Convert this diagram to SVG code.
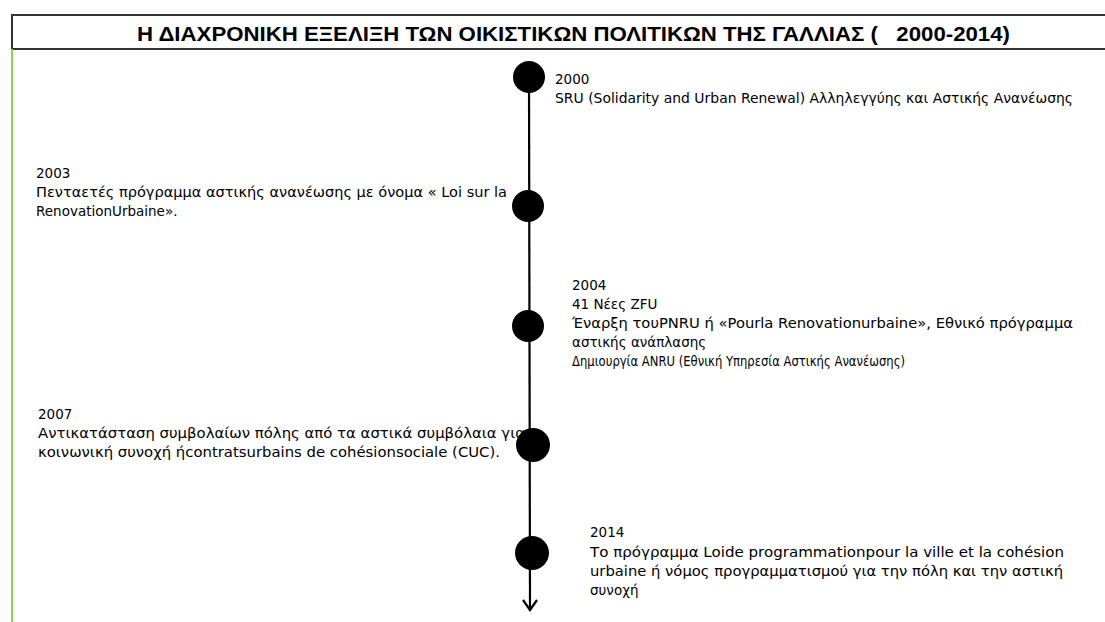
<svg xmlns="http://www.w3.org/2000/svg" width="1105" height="622" viewBox="0 0 1105 622">
<style>
.t{font-family:"DejaVu Sans","Liberation Sans",sans-serif;font-size:13.5px;fill:#000}
.h{font-family:"Liberation Sans Narrow","Liberation Sans",sans-serif;font-size:21px;font-weight:bold;fill:#000;white-space:pre}
.dot{fill:#000}
</style>
<rect width="1105" height="622" fill="#fff"/>
<g id="title">
<rect x="12" y="15" width="1100" height="34" fill="#fff" stroke="#333" stroke-width="2"/>
<line x1="12" y1="49" x2="12" y2="622" stroke="#92d050" stroke-width="2"/>
<text class="h" x="137" y="41" textLength="873" lengthAdjust="spacingAndGlyphs" xml:space="preserve">Η ΔΙΑΧΡΟΝΙΚΗ ΕΞΕΛΙΞΗ ΤΩΝ ΟΙΚΙΣΤΙΚΩΝ ΠΟΛΙΤΙΚΩΝ ΤΗΣ ΓΑΛΛΙΑΣ (   2000-2014)</text>
</g>
<g id="connectors">
<line x1="529" y1="76" x2="530" y2="610" stroke="#000" stroke-width="2.2"/>
<polyline points="523,600 530,610 537,600" fill="none" stroke="#000" stroke-width="2.2"/>
</g>
<g id="n2000">
<circle class="dot" cx="529" cy="77" r="16"/>
<text class="t" x="555" y="84">2000</text>
<text class="t" x="555" y="103" textLength="518" lengthAdjust="spacingAndGlyphs">SRU (Solidarity and Urban Renewal) Αλληλεγγύης και Αστικής Ανανέωσης</text>
</g>
<g id="n2003">
<circle class="dot" cx="528" cy="206" r="16"/>
<text class="t" x="36" y="178">2003</text>
<text class="t" x="36" y="197" textLength="471" lengthAdjust="spacingAndGlyphs">Πενταετές πρόγραμμα αστικής ανανέωσης με όνομα « Loi sur la</text>
<text class="t" x="36" y="216">RenovationUrbaine».</text>
</g>
<g id="n2004">
<circle class="dot" cx="528" cy="326" r="16"/>
<text class="t" x="572" y="290">2004</text>
<text class="t" x="572" y="309">41 Νέες ZFU</text>
<text class="t" x="572" y="328" textLength="501" lengthAdjust="spacingAndGlyphs">Έναρξη τουPNRU ή «Pourla Renovationurbaine», Εθνικό πρόγραμμα</text>
<text class="t" x="572" y="347">αστικής ανάπλασης</text>
<text class="t" x="572" y="366" textLength="333" lengthAdjust="spacingAndGlyphs">Δημιουργία ANRU (Εθνική Υπηρεσία Αστικής Ανανέωσης)</text>
</g>
<g id="n2007">
<circle class="dot" cx="533" cy="445" r="17"/>
<text class="t" x="38" y="419">2007</text>
<text class="t" x="38" y="438" textLength="487" lengthAdjust="spacingAndGlyphs">Αντικατάσταση συμβολαίων πόλης από τα αστικά συμβόλαια για</text>
<text class="t" x="38" y="457" textLength="462" lengthAdjust="spacingAndGlyphs">κοινωνική συνοχή ήcontratsurbains de cohésionsociale (CUC).</text>
</g>
<g id="n2014">
<circle class="dot" cx="532" cy="553" r="17"/>
<text class="t" x="590" y="537">2014</text>
<text class="t" x="590" y="557" textLength="474" lengthAdjust="spacingAndGlyphs">Το πρόγραμμα Loide programmationpour la ville et la cohésion</text>
<text class="t" x="590" y="576" textLength="473" lengthAdjust="spacingAndGlyphs">urbaine ή νόμος προγραμματισμού για την πόλη και την αστική</text>
<text class="t" x="590" y="595">συνοχή</text>
</g>
</svg>
